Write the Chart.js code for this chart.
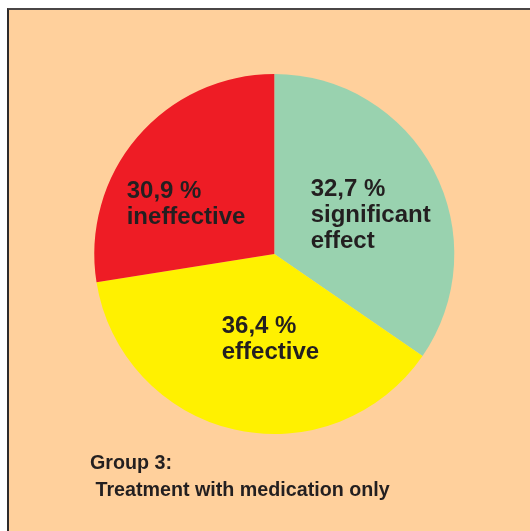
<!DOCTYPE html>
<html>
<head>
<meta charset="utf-8">
<script src="https://cdn.jsdelivr.net/npm/chart.js@4"></script>
<style>
  html, body { margin: 0; padding: 0; background: #fff; width: 530px; height: 531px; overflow: hidden; }
  #frame {
    position: absolute; left: 7px; top: 8px; width: 523px; height: 523px;
    background: #FFD09C; border-left: 2px solid #2e2b2b; border-top: 2px solid #4a4646;
  }
  #grafica { position: absolute; left: 0; top: 0; }
</style>
</head>
<body>
<div id="frame"></div>
<canvas id="grafica" width="530" height="531"></canvas>
<script>
const categorias = ["significant effect", "effective", "ineffective"];
const porcentajes = ["32,7 %", "36,4 %", "30,9 %"];
const lineasTexto = [["significant", "effect"], ["effective"], ["ineffective"]];
const sectores = [34.6, 37.9, 27.5];
const colores = ["#99D2AF", "#FFF100", "#EE1C25"];
const pieTexto = ["Group 3:", " Treatment with medication only"];

// where each label's first line starts, relative to centre, in radii
const anclas = [[0.202, -0.322], [-0.292, 0.441], [-0.82, -0.313]];

const etiquetasPlugin = {
  id: "etiquetas",
  afterDatasetsDraw(chart) {
    const ctx = chart.ctx;
    const arco = chart.getDatasetMeta(0).data[0];
    const cx = arco.x, cy = arco.y, r = arco.outerRadius;
    ctx.save();
    ctx.fillStyle = "#231F20";
    ctx.textAlign = "left";
    ctx.textBaseline = "alphabetic";
    ctx.font = "bold 24px 'Liberation Sans', Arial, sans-serif";
    categorias.forEach((c, i) => {
      const x = cx + anclas[i][0] * r;
      let y = cy + anclas[i][1] * r;
      [porcentajes[i]].concat(lineasTexto[i]).forEach(t => {
        ctx.fillText(t, x, y);
        y += 26;
      });
    });
    ctx.font = "bold 19.7px 'Liberation Sans', Arial, sans-serif";
    ctx.fillText(pieTexto[0], 90, 468.5);
    ctx.fillText(pieTexto[1], 90, 495.5);
    ctx.restore();
  }
};

new Chart(document.getElementById("grafica"), {
  type: "pie",
  data: {
    labels: categorias,
    datasets: [{
      data: sectores,
      backgroundColor: colores,
      borderWidth: 0
    }]
  },
  options: {
    responsive: false,
    animation: false,
    layout: { padding: { left: 94.3, right: 75.7, top: 74, bottom: 97 } },
    plugins: {
      legend: { display: false },
      tooltip: { enabled: false }
    }
  },
  plugins: [etiquetasPlugin]
});
</script>
</body>
</html>
